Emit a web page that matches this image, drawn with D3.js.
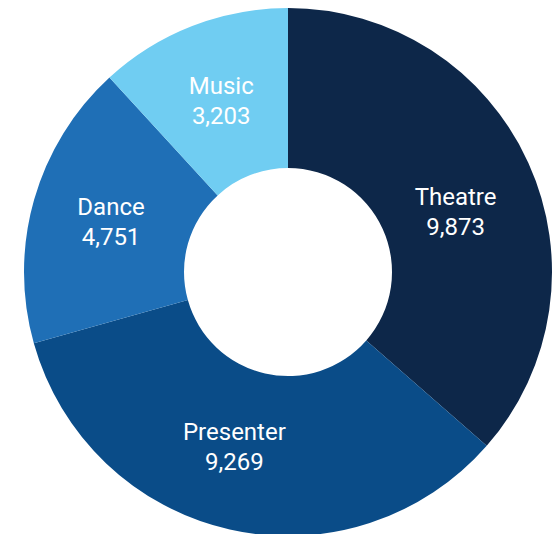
<!DOCTYPE html>
<html>
<head>
<meta charset="utf-8">
<script src="https://cdn.jsdelivr.net/npm/d3@7"></script>
<style>
  html, body { margin: 0; padding: 0; background: #fff; }
  svg { display: block; }
</style>
</head>
<body>
<div id="chart"></div>
<script>
// data
var categories = ['Theatre', 'Presenter', 'Dance', 'Music'];
var values     = [9873, 9269, 4751, 3203];
var colors     = ['#0d2749', '#0a4c88', '#1f6fb6', '#70cdf2'];

// small label nudges so text sits like the original
var nudges = { Theatre: [0, 16], Presenter: [-13, -5], Dance: [0, 0], Music: [0, 0] };

//config options
var width       = 557
  , height      = 534
  , cx          = 288
  , cy          = 272
  , outerRadius = 264
  , innerRadius = 104
;

var rows = categories.map(function (c, i) { return { name: c, value: values[i] }; });

var color = d3.scaleOrdinal().domain(categories).range(colors);
var fmt = d3.format(',');

var pie = d3.pie()
    .sort(null)
    .value(function (d) { return d.value; });

var arc = d3.arc()
    .innerRadius(innerRadius)
    .outerRadius(outerRadius);

var svg = d3.select('#chart').append('svg')
    .attr('width', width)
    .attr('height', height);

var g = svg.append('g')
    .attr('transform', 'translate(' + cx + ',' + cy + ')');

var arcs = pie(rows);

g.selectAll('path.slice')
    .data(arcs)
    .enter()
    .append('path')
    .attr('class', 'slice')
    .attr('d', arc)
    .attr('fill', function (d) { return color(d.data.name); });

var labels = g.selectAll('text.label')
    .data(arcs)
    .enter()
    .append('text')
    .attr('class', 'label')
    .attr('transform', function (d) {
      var c = arc.centroid(d), n = nudges[d.data.name];
      return 'translate(' + (c[0] + n[0]) + ',' + (c[1] + n[1]) + ')';
    })
    .attr('text-anchor', 'middle')
    .style('font-family', 'Roboto, sans-serif')
    .style('font-size', '24px')
    .attr('fill', '#fff');

labels.append('tspan')
    .attr('x', 0)
    .attr('y', -6.5)
    .text(function (d) { return d.data.name; });

labels.append('tspan')
    .attr('x', 0)
    .attr('y', 23.5)
    .text(function (d) { return fmt(d.data.value); });
</script>
</body>
</html>
